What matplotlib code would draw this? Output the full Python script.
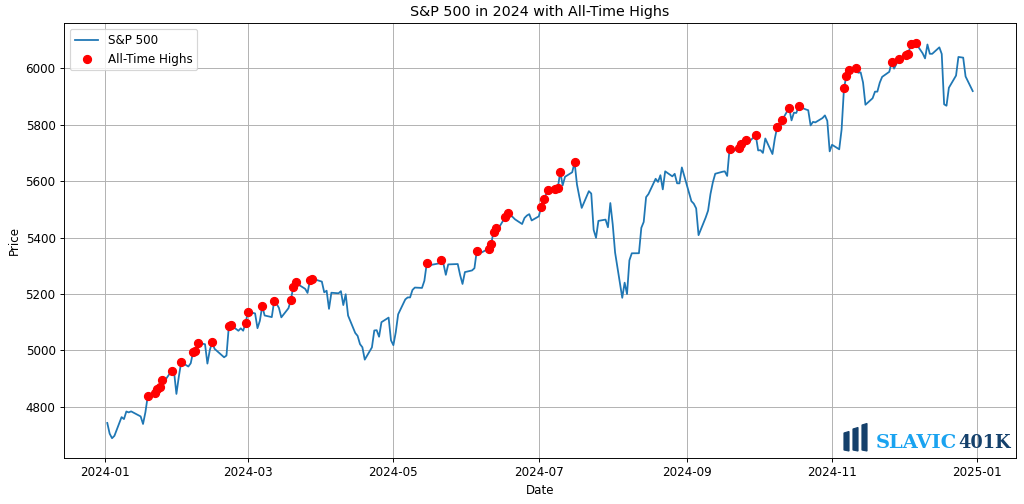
import matplotlib
matplotlib.use('Agg')
import matplotlib.pyplot as plt
from matplotlib.patches import Polygon
import numpy as np
import pandas as pd

# trading days 2024 (to Dec 30)
holidays = ['2024-01-01', '2024-01-15', '2024-02-19', '2024-03-29', '2024-05-27',
            '2024-06-19', '2024-07-04', '2024-09-02', '2024-11-28', '2024-12-25']
dates = pd.bdate_range('2024-01-02', '2024-12-30')
dates = dates[~dates.isin(pd.to_datetime(holidays))]

close_jan = [4742.83, 4704.81, 4688.68, 4697.24, 4763.54, 4756.50, 4783.45, 4780.24, 4783.83, 4765.98,
             4739.21, 4780.94, 4839.81, 4850.43, 4864.60, 4868.55, 4894.16, 4890.97, 4927.93, 4924.97, 4845.65]
close_feb = [4906.19, 4958.61, 4942.81, 4954.23, 4995.06, 4997.91, 5026.61, 5021.84, 4953.17, 5000.62,
             5029.73, 5005.57, 4975.51, 4981.80, 5087.03, 5088.80, 5069.53, 5078.18, 5069.76, 5096.27]
close_mar = [5137.08, 5130.95, 5078.65, 5104.76, 5157.36, 5123.69, 5117.94, 5175.27, 5165.31, 5150.48,
             5117.09, 5149.42, 5178.51, 5224.62, 5241.53, 5234.18, 5218.19, 5203.58, 5248.49, 5254.35]
close_apr = [5243.77, 5205.81, 5211.49, 5147.21, 5204.34, 5202.39, 5209.91, 5160.64, 5199.06, 5123.41,
             5061.82, 5051.41, 5022.21, 5011.12, 4967.23, 5010.60, 5070.55, 5071.63, 5048.42, 5099.96,
             5116.17, 5035.69]
close_may = [5018.39, 5064.20, 5127.79, 5180.74, 5187.70, 5187.67, 5214.08, 5222.68, 5221.42, 5246.68,
             5308.15, 5297.10, 5303.27, 5308.13, 5321.41, 5307.01, 5267.84, 5304.72, 5306.04, 5266.95,
             5235.48, 5277.51]
close_jun = [5283.40, 5291.34, 5354.03, 5352.96, 5346.99, 5360.79, 5375.32, 5421.03, 5433.74, 5431.60,
             5473.23, 5487.03, 5473.17, 5464.62, 5447.87, 5469.30, 5477.90, 5482.87, 5460.48]
close_jul = [5475.09, 5509.01, 5537.02, 5567.19, 5572.85, 5576.98, 5633.91, 5584.54, 5615.35, 5631.22,
             5667.20, 5588.27, 5544.59, 5505.00, 5564.41, 5555.74, 5427.13, 5399.22, 5459.10, 5463.54,
             5436.44, 5522.30]
close_aug = [5446.68, 5346.56, 5186.33, 5240.03, 5199.50, 5319.31, 5344.16, 5344.39, 5434.43, 5455.21,
             5543.22, 5554.25, 5608.25, 5597.12, 5620.85, 5570.64, 5634.61, 5616.84, 5625.80, 5592.18,
             5591.96, 5648.40]
close_sep = [5528.93, 5520.07, 5503.41, 5408.42, 5471.05, 5495.52, 5554.13, 5595.76, 5626.02, 5633.09,
             5634.58, 5618.26, 5713.64, 5702.55, 5718.57, 5732.93, 5722.26, 5745.37, 5738.17, 5762.48]
close_oct = [5708.75, 5709.54, 5699.94, 5751.07, 5695.94, 5751.13, 5792.04, 5780.05, 5815.03, 5859.85,
             5815.26, 5842.47, 5841.47, 5864.67, 5853.98, 5851.20, 5797.42, 5809.86, 5808.12, 5823.52,
             5832.92, 5813.67, 5705.45]
close_nov = [5728.80, 5712.69, 5782.76, 5929.04, 5973.10, 5995.54, 6001.35, 5983.99, 5985.38, 5949.17,
             5870.62, 5893.62, 5916.98, 5917.11, 5948.71, 5969.34, 5987.37, 6021.63, 5998.74, 6032.38]
close_dec = [6047.15, 6049.88, 6086.49, 6075.11, 6090.27, 6052.85, 6034.91, 6084.19, 6051.25, 6051.09,
             6074.08, 6050.61, 5872.16, 5867.08, 5930.85, 5974.07, 6040.04, 6037.59, 5970.84, 5919.00]

close = np.array(close_jan + close_feb + close_mar + close_apr + close_may + close_jun +
                 close_jul + close_aug + close_sep + close_oct + close_nov + close_dec)
prev_high = 4796.56  # record close before 2024

df = pd.DataFrame({'Close': close}, index=dates)
running = np.maximum.accumulate(np.concatenate([[prev_high], close]))[:-1]
ath = df[df['Close'] > running]

W, H = 1024, 504
fig = plt.figure(figsize=(12, 12*H/W), dpi=W/12)
ax = fig.add_axes([64/W, 1-458/H, (1016-64)/W, (458-23)/H])
ax.plot(df.index, df['Close'], label='S&P 500')
ax.scatter(ath.index, ath['Close'], color='red', s=46, label='All-Time Highs', zorder=5)
ax.set_title('S&P 500 in 2024 with All-Time Highs')
ax.set_xlabel('Date')
ax.set_ylabel('Price')
ax.grid(True)
ax.legend(loc='upper left')

# watermark logo
bars = [(844, 433, 451), (853, 429, 451), (862, 425, 451)]
for x0, ytop, ybot in bars:
    pts = [(x0, H-ytop), (x0+5, H-ytop+1.5), (x0+5, H-ybot), (x0, H-ybot+1)]
    fig.patches.append(Polygon([(px/W, py/H) for px, py in pts], closed=True,
                               transform=fig.transFigure, color='#14406b', zorder=10))
fig.text(876/W, 1-448.5/H, 'SLAVIC', color='#1aa3f0', fontsize=16.5, fontweight='bold',
         family='DejaVu Serif', va='baseline')
fig.text(958/W, 1-448.5/H, '401K', color='#14406b', fontsize=15, fontweight='bold',
         family='DejaVu Serif', va='baseline')

fig.savefig('out.png', dpi=W/12)
